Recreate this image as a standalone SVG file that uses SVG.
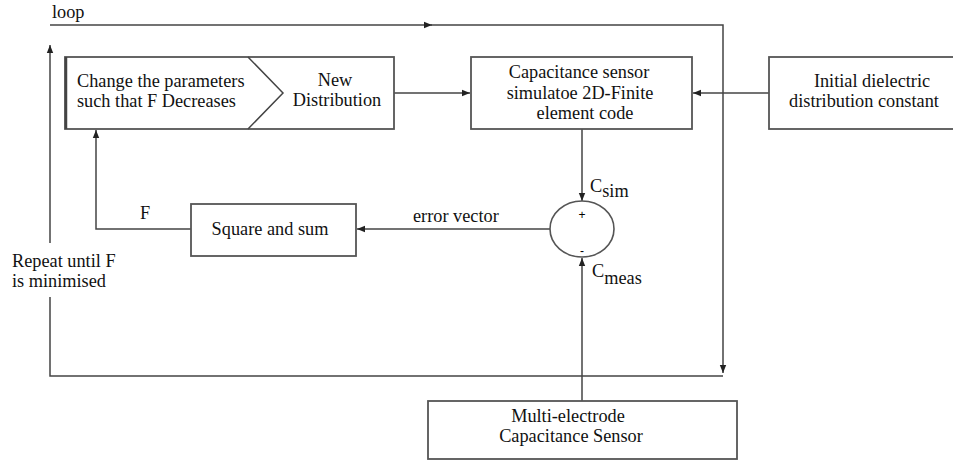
<svg xmlns="http://www.w3.org/2000/svg" width="953" height="461" viewBox="0 0 953 461">
<defs>
<marker id="ah" viewBox="0 0 10 10" refX="10" refY="5" markerWidth="8" markerHeight="8" markerUnits="userSpaceOnUse" orient="auto">
<path d="M0,1 L10,5 L0,9 Z" fill="#222"/>
</marker>
</defs>
<style>
.box{fill:#fff;stroke:#555;stroke-width:1.8}
.ln{fill:none;stroke:#444;stroke-width:1.5}
.t{font-family:"Liberation Serif","Times New Roman",serif;font-size:18.3px;fill:#111}
.c{text-anchor:middle}
.s{font-family:"Liberation Sans",Arial,sans-serif;font-size:12px;fill:#000;text-anchor:middle}
</style>
<rect width="953" height="461" fill="#fff"/>
<g id="connectors">
<path class="ln" d="M50,25 L432,25" marker-end="url(#ah)"/>
<path class="ln" d="M430,25 L723,25 L723,373" marker-end="url(#ah)"/>
<path class="ln" d="M723,376 L50,376 L50,297"/>
<path class="ln" d="M50,243 L50,45" marker-end="url(#ah)"/>
<path class="ln" d="M394,93 L470,93" marker-end="url(#ah)"/>
<path class="ln" d="M769,93 L693,93" marker-end="url(#ah)"/>
<path class="ln" d="M582,129 L582,201" marker-end="url(#ah)"/>
<path class="ln" d="M582,401 L582,258" marker-end="url(#ah)"/>
<path class="ln" d="M550,229 L357,229" marker-end="url(#ah)"/>
<path class="ln" d="M191,229 L96,229 L96,130" marker-end="url(#ah)"/>
<text class="t" x="52" y="18">loop</text>
<text class="t" x="140" y="219">F</text>
<text class="t" x="413" y="222">error vector</text>
<text class="t" x="590" y="192">C<tspan dy="5">sim</tspan></text>
<text class="t" x="592" y="277">C<tspan dy="7">meas</tspan></text>
<text class="t" x="12" y="267">Repeat until F</text>
<text class="t" x="12" y="287">is minimised</text>
</g>
<g id="change">
<rect class="box" x="65" y="57" width="329" height="72"/>
<path class="ln" d="M66,57 L66,129" style="stroke-width:2.5"/>
<path class="ln" d="M248,57 L283,93 L248,129"/>
<text class="t" x="77" y="87">Change the parameters</text>
<text class="t" x="77" y="107">such that F Decreases</text>
<text class="t c" x="335" y="86">New</text>
<text class="t c" x="337" y="106">Distribution</text>
</g>
<g id="simulator">
<rect class="box" x="471" y="57" width="221" height="72"/>
<text class="t c" x="579" y="78">Capacitance sensor</text>
<text class="t c" x="580" y="99">simulatoe 2D-Finite</text>
<text class="t c" x="585" y="119">element code</text>
</g>
<g id="initial">
<rect class="box" x="769" y="57" width="190" height="72"/>
<text class="t c" x="872" y="87">Initial dielectric</text>
<text class="t c" x="864" y="107">distribution constant</text>
</g>
<g id="sum">
<ellipse cx="582" cy="229" rx="32" ry="28" fill="#fff" stroke="#555" stroke-width="1.6"/>
<text class="s" x="582" y="219">+</text>
<text class="s" x="582" y="255">-</text>
</g>
<g id="square">
<rect class="box" x="191" y="204" width="165" height="52"/>
<text class="t c" x="270" y="235">Square and sum</text>
</g>
<g id="sensor">
<rect class="box" x="428" y="401" width="309" height="58"/>
<text class="t c" x="568" y="422">Multi-electrode</text>
<text class="t c" x="571" y="442">Capacitance Sensor</text>
</g>
</svg>
